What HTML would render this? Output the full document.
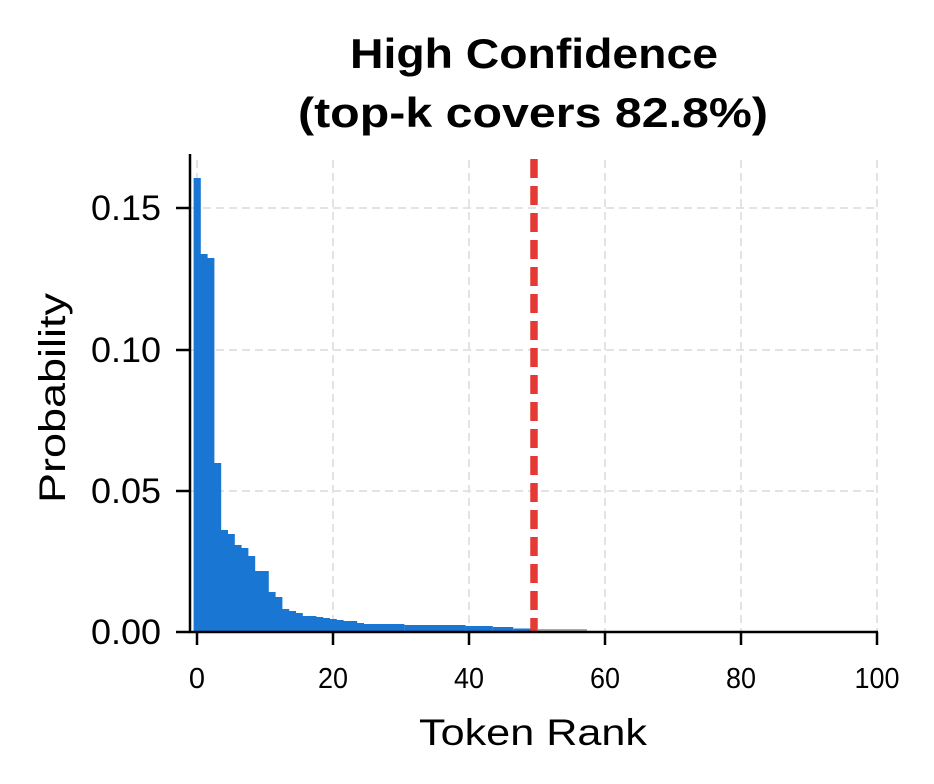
<!DOCTYPE html>
<html><head><meta charset="utf-8"><style>body{margin:0;background:#fff}svg{display:block}</style></head>
<body>
<svg width="934" height="784" viewBox="0 0 934 784" xmlns="http://www.w3.org/2000/svg" font-family="Liberation Sans, sans-serif">
<rect width="934" height="784" fill="#fff"/>
<g stroke="#e3e3e3" stroke-width="2" stroke-dasharray="8,5">
<line x1="197" y1="160" x2="197" y2="632"/><line x1="333" y1="160" x2="333" y2="632"/><line x1="469" y1="160" x2="469" y2="632"/><line x1="605" y1="160" x2="605" y2="632"/><line x1="741" y1="160" x2="741" y2="632"/><line x1="877" y1="160" x2="877" y2="632"/>
<line x1="190" y1="208" x2="877" y2="208"/><line x1="190" y1="350" x2="877" y2="350"/><line x1="190" y1="491" x2="877" y2="491"/>
</g>
<g fill="#1976d2">
<rect x="193.6" y="178" width="7.2" height="454"/>
<rect x="200.4" y="254" width="7.2" height="378"/>
<rect x="207.2" y="258" width="7.2" height="374"/>
<rect x="214.0" y="463" width="7.2" height="169"/>
<rect x="220.8" y="530" width="7.2" height="102"/>
<rect x="227.6" y="534" width="7.2" height="98"/>
<rect x="234.4" y="545" width="7.2" height="87"/>
<rect x="241.2" y="548" width="7.2" height="84"/>
<rect x="248.0" y="556" width="7.2" height="76"/>
<rect x="254.8" y="571" width="7.2" height="61"/>
<rect x="261.6" y="571" width="7.2" height="61"/>
<rect x="268.4" y="592" width="7.2" height="40"/>
<rect x="275.2" y="597" width="7.2" height="35"/>
<rect x="282.0" y="609" width="7.2" height="23"/>
<rect x="288.8" y="611" width="7.2" height="21"/>
<rect x="295.6" y="613" width="7.2" height="19"/>
<rect x="302.4" y="616" width="7.2" height="16"/>
<rect x="309.2" y="616" width="7.2" height="16"/>
<rect x="316.0" y="617" width="7.2" height="15"/>
<rect x="322.8" y="618" width="7.2" height="14"/>
<rect x="329.6" y="619" width="7.2" height="13"/>
<rect x="336.4" y="620" width="7.2" height="12"/>
<rect x="343.2" y="621" width="7.2" height="11"/>
<rect x="350.0" y="621" width="7.2" height="11"/>
<rect x="356.8" y="623" width="7.2" height="9"/>
<rect x="363.6" y="624" width="40.8" height="8"/>
<rect x="404.4" y="625" width="61.2" height="7"/>
<rect x="465.6" y="626" width="27.2" height="6"/>
<rect x="492.8" y="627" width="20.4" height="5"/>
<rect x="513.2" y="628.5" width="20" height="3.5"/>
</g>
<rect x="538" y="629" width="49" height="3" fill="#aaaaaa"/>
<line x1="534" y1="159" x2="534" y2="632" stroke="#e53935" stroke-width="7.5" stroke-dasharray="19,8"/>
<g stroke="#000" stroke-width="2.5">
<line x1="190" y1="154" x2="190" y2="633"/><line x1="189" y1="632" x2="878" y2="632"/>
<line x1="176" y1="208" x2="190" y2="208"/><line x1="176" y1="350" x2="190" y2="350"/><line x1="176" y1="491" x2="190" y2="491"/><line x1="176" y1="632" x2="190" y2="632"/>
<line x1="197" y1="632" x2="197" y2="645"/><line x1="333" y1="632" x2="333" y2="645"/><line x1="469" y1="632" x2="469" y2="645"/><line x1="605" y1="632" x2="605" y2="645"/><line x1="741" y1="632" x2="741" y2="645"/><line x1="877" y1="632" x2="877" y2="645"/>
</g>
<g font-size="35" text-anchor="end" fill="#000">
<text x="161" y="220" textLength="70" lengthAdjust="spacingAndGlyphs">0.15</text><text x="161" y="362" textLength="70" lengthAdjust="spacingAndGlyphs">0.10</text><text x="161" y="503" textLength="70" lengthAdjust="spacingAndGlyphs">0.05</text><text x="161" y="644" textLength="70" lengthAdjust="spacingAndGlyphs">0.00</text>
</g>
<g font-size="29" text-anchor="middle" fill="#000">
<text x="197" y="688">0</text><text x="333" y="688" textLength="30" lengthAdjust="spacingAndGlyphs">20</text><text x="469" y="688" textLength="30" lengthAdjust="spacingAndGlyphs">40</text><text x="605" y="688" textLength="30" lengthAdjust="spacingAndGlyphs">60</text><text x="741" y="688" textLength="30" lengthAdjust="spacingAndGlyphs">80</text><text x="877" y="688" textLength="45" lengthAdjust="spacingAndGlyphs">100</text>
</g>
<text x="533" y="745" font-size="37" text-anchor="middle" textLength="228" lengthAdjust="spacingAndGlyphs">Token Rank</text>
<text transform="translate(65,398) rotate(-90)" font-size="37" text-anchor="middle" textLength="210" lengthAdjust="spacingAndGlyphs">Probability</text>
<text x="534" y="68" font-size="42" font-weight="bold" text-anchor="middle" textLength="368" lengthAdjust="spacingAndGlyphs">High Confidence</text>
<text x="533" y="127" font-size="42" font-weight="bold" text-anchor="middle" textLength="470" lengthAdjust="spacingAndGlyphs">(top-k covers 82.8%)</text>
</svg>
</body></html>
